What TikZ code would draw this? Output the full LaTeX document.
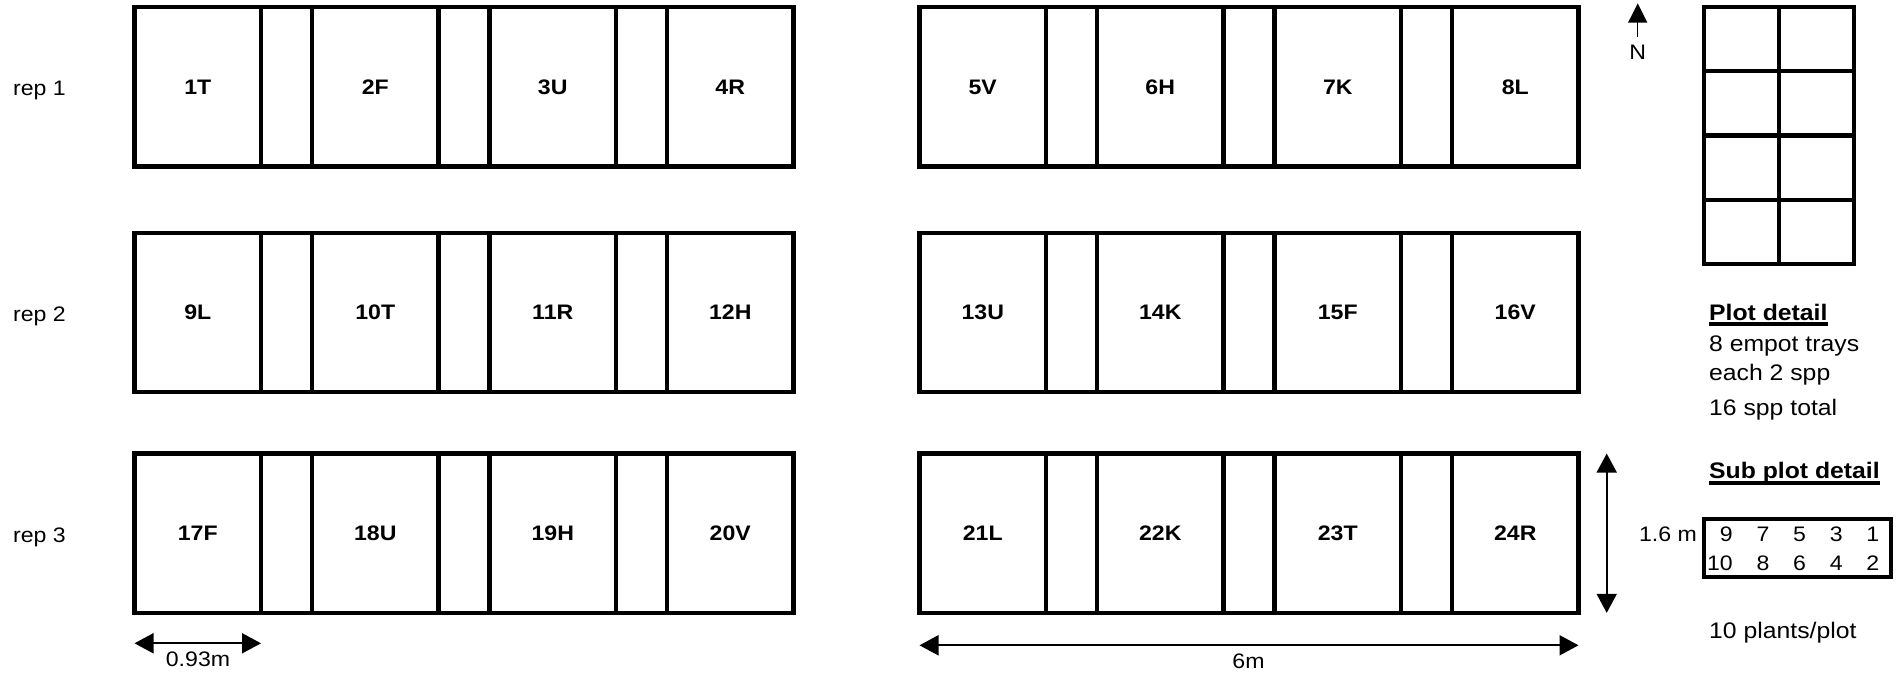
\documentclass[tikz,border=0pt]{standalone}
\usepackage{fontspec}
\setmainfont[FakeStretch=1.1]{Liberation Sans}
\usetikzlibrary{arrows.meta}
\tikzset{
  blk/.style={line width=4.3pt},
  plotbox/.style={draw, line width=4.3pt, outer sep=0pt, minimum width=126.5pt, minimum height=159.3pt, inner sep=0pt, font=\fontsize{21}{24}\selectfont\bfseries},
  replbl/.style={font=\fontsize{21}{24}\selectfont, inner sep=0pt, anchor=base west},
  info/.style={font=\fontsize{22.5}{27}\selectfont, inner sep=0pt, anchor=base west},
  infohead/.style={font=\fontsize{22.5}{27}\selectfont\bfseries, inner sep=0pt, anchor=base west},
  num/.style={font=\fontsize{21}{25}\selectfont, inner sep=0pt, anchor=base east},
  dimlbl/.style={font=\fontsize{21}{25}\selectfont, inner sep=0pt, anchor=base},
  tri/.tip={Triangle[length=19pt,width=20pt]},
  dimarrow/.style={line width=1.8pt, tri-tri},
}
\begin{document}
\begin{tikzpicture}[x=1pt,y=-1pt]
\useasboundingbox (0,0) rectangle (1896,674);
% plots: centres
\foreach \r/\cy/\la/\lb/\lc/\ld/\le/\lf/\lg/\lh [count=\i] in {
  1/86.9/1T/2F/3U/4R/5V/6H/7K/8L,
  2/312.5/9L/10T/11R/12H/13U/14K/15F/16V,
  3/533.2/17F/18U/19H/20V/21L/22K/23T/24R}{
  \node[plotbox] (r\r a) at (197.75,\cy) {\la};
  \node[plotbox] (r\r b) at (375.25,\cy) {\lb};
  \node[plotbox] (r\r c) at (552.75,\cy) {\lc};
  \node[plotbox] (r\r d) at (730.25,\cy) {\ld};
  \node[plotbox] (r\r e) at (982.75,\cy) {\le};
  \node[plotbox] (r\r f) at (1160.25,\cy) {\lf};
  \node[plotbox] (r\r g) at (1337.75,\cy) {\lg};
  \node[plotbox] (r\r h) at (1515.25,\cy) {\lh};
  \draw[blk] (r\r a.north west) rectangle (r\r d.south east);
  \draw[blk] (r\r e.north west) rectangle (r\r h.south east);
}
% rep labels
\node[replbl] (rep1) at (13,95.7) {rep 1};
\node[replbl] (rep2) at (13,321.3) {rep 2};
\node[replbl] (rep3) at (13,542) {rep 3};
% north arrow
\node[font=\fontsize{21}{25}\selectfont, inner sep=0pt, anchor=north] (N) at (1637.7,45) {N};
\coordinate (ntip) at (1637.7,3.3);
\draw[line width=1.5pt, -{Triangle[length=19.4pt,width=19pt]}] ([yshift=8pt]N.north) -- (ntip);
% plot detail grid
\draw[blk] (1703.8,7.3) rectangle (1853.8,264.3);
\draw[blk] (1778.8,7.3) -- (1778.8,264.3);
\draw[blk] (1703.8,71) -- (1853.8,71);
\draw[blk] (1703.8,135.5) -- (1853.8,135.5);
\draw[blk] (1703.8,200) -- (1853.8,200);
% plot detail text
\node[infohead] (pd) at (1709,320) {Plot detail};
\draw[line width=3.5pt] ([yshift=-4pt]pd.base west) -- ([yshift=-4pt]pd.base east);
\node[info] (pd1) at (1709,351) {8 empot trays};
\node[info] (pd2) at (1709,380.7) {each 2 spp};
\node[info] (pd3) at (1709,415) {16 spp total};
\node[infohead] (spd) at (1709,478.3) {Sub plot detail};
\draw[line width=3.5pt] ([yshift=-4.5pt]spd.base west) -- ([yshift=-4.5pt]spd.base east);
% sub plot box
\draw[blk] (1703.7,518.8) rectangle (1890.7,577.2);
\foreach \a/\b [count=\k from 0] in {9/10,7/8,5/6,3/4,1/2}{
  \node[num] (ta\k) at (1733+36.6*\k,541.7) {\a};
  \node[num] (tb\k) at (1733+36.6*\k,570) {\b};
}
\node[num] (len) at (1697,541.7) {1.6 m};
\node[info] (pl) at (1709,638) {10 plants/plot};
% dimension arrows
\coordinate (dy1) at (0,643.3);
\coordinate (dy2) at (0,645.3);
\coordinate (dx3) at (1606.7,0);
\draw[dimarrow] (r3a.south west |- dy1) -- (r3a.south east |- dy1);
\node[dimlbl] (d093) at (198,666.5) {0.93m};
\draw[dimarrow] (r3e.south west |- dy2) -- (r3h.south east |- dy2);
\node[dimlbl] (d6) at (1248.5,668.5) {6m};
\draw[dimarrow] (dx3 |- r3h.north east) -- (dx3 |- r3h.south east);
\end{tikzpicture}
\end{document}
